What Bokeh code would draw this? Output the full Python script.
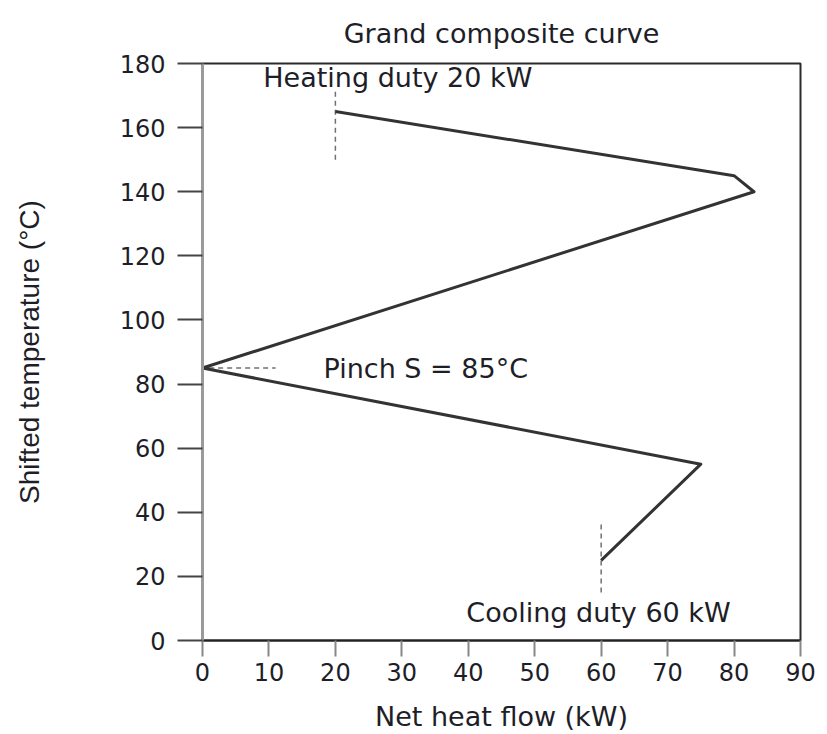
from bokeh.plotting import figure
from bokeh.models import Range1d, FixedTicker, Label, ColumnDataSource
from bokeh.embed import file_html
from bokeh.resources import INLINE

# Grand composite curve data
net_heat_flow = [20, 80, 83, 0, 75, 60]        # kW
shifted_temp = [165, 145, 140, 85, 55, 25]     # degC

x_ticks = [0, 10, 20, 30, 40, 50, 60, 70, 80, 90]
y_ticks = [0, 20, 40, 60, 80, 100, 120, 140, 160, 180]

heating_duty = 20
cooling_duty = 60
pinch_temp = 85
heating_guide_temp = [150, 172]
cooling_guide_temp = [15, 36.5]
pinch_guide_flow = [1, 11]

heating_label = "Heating duty 20 kW"
pinch_label = "Pinch S = 85°C"
cooling_label = "Cooling duty 60 kW"
heating_label_pos = (29.4, 175.6)
pinch_label_pos = (33.6, 85)
cooling_label_pos = (59.6, 8.7)

TXT = "#1e1e28"
FONT = "DejaVu Sans"

p = figure(width=827, height=734, x_range=Range1d(0, 90), y_range=Range1d(0, 180),
           output_backend="svg", toolbar_location=None,
           min_border_left=202, min_border_right=27, min_border_top=63, min_border_bottom=94,
           title="Grand composite curve")
p.outline_line_color = "#2a2a2a"
p.outline_line_width = 2
p.xgrid.visible = False
p.ygrid.visible = False
p.background_fill_color = "white"

p.title.align = "center"
p.title.text_font = FONT
p.title.text_font_size = "27px"
p.title.text_font_style = "normal"
p.title.text_color = TXT
p.title.standoff = 30

xa = p.xaxis[0]
xa.ticker = FixedTicker(ticks=x_ticks)
xa.axis_label = "Net heat flow (kW)"
xa.axis_label_text_font = FONT
xa.axis_label_text_font_size = "27px"
xa.axis_label_text_font_style = "normal"
xa.axis_label_text_color = TXT
xa.axis_label_standoff = 17
xa.major_label_text_font = FONT
xa.major_label_text_font_size = "24px"
xa.major_label_text_color = TXT
xa.major_label_standoff = 6
xa.major_tick_out = 16
xa.major_tick_in = 0
xa.minor_tick_out = 0
xa.minor_tick_in = 0
xa.axis_line_color = "#222222"
xa.axis_line_width = 2
xa.major_tick_line_color = "#888888"
xa.major_tick_line_width = 2

ya = p.yaxis[0]
ya.ticker = FixedTicker(ticks=y_ticks)
ya.axis_label = "Shifted temperature (°C)"
ya.axis_label_text_font = "Liberation Sans"
ya.axis_label_text_font_size = "28px"
ya.axis_label_text_font_style = "normal"
ya.axis_label_text_color = TXT
ya.axis_label_standoff = 72
ya.major_label_text_font = FONT
ya.major_label_text_font_size = "24px"
ya.major_label_text_color = TXT
ya.major_label_standoff = 12
ya.major_tick_out = 25
ya.major_tick_in = 0
ya.minor_tick_out = 0
ya.minor_tick_in = 0
ya.axis_line_color = "#9a9a9a"
ya.axis_line_width = 3
ya.major_tick_line_color = "#444444"
ya.major_tick_line_width = 2

# guide lines
p.line([heating_duty, heating_duty], heating_guide_temp, line_color="#707070",
       line_width=1.5, line_dash="5 4")
p.line([cooling_duty, cooling_duty], cooling_guide_temp, line_color="#707070",
       line_width=1.5, line_dash="5 4")
p.line(pinch_guide_flow, [pinch_temp, pinch_temp], line_color="#707070",
       line_width=1.5, line_dash="5 4")

# curve
src = ColumnDataSource(dict(x=net_heat_flow, y=shifted_temp))
p.line("x", "y", source=src, line_color="#333333", line_width=3, line_join="round")

for text, (lx, ly) in [(heating_label, heating_label_pos), (pinch_label, pinch_label_pos),
                       (cooling_label, cooling_label_pos)]:
    p.add_layout(Label(x=lx, y=ly, text=text, text_align="center", text_baseline="middle",
                       text_font=FONT, text_font_size="27px", text_color=TXT))

open("out.html", "w").write(file_html(p, INLINE))
